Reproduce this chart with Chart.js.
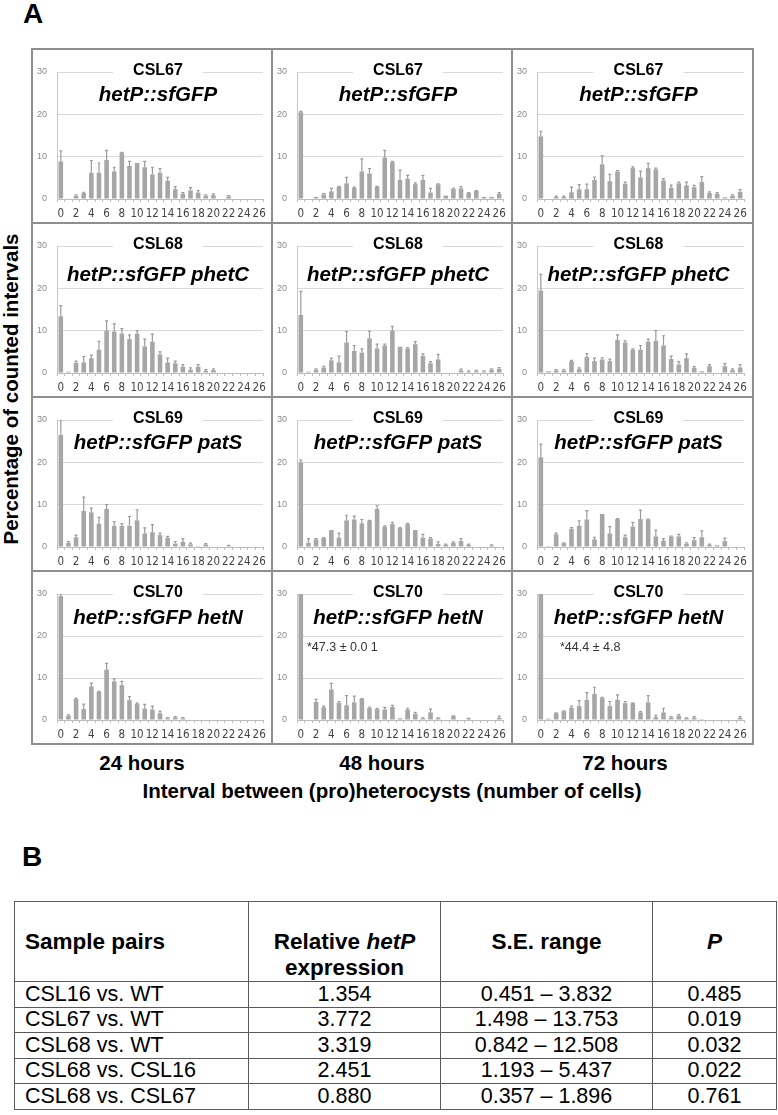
<!DOCTYPE html>
<html>
<head>
<meta charset="utf-8">
<script src="https://cdn.jsdelivr.net/npm/chart.js@4.4.0/dist/chart.umd.min.js"></script>
<style>
  body{margin:0;background:#fff;font-family:"Liberation Sans",Arial,sans-serif;}
  #page{position:relative;width:778px;height:1115px;overflow:hidden;background:#fff;}
  canvas{position:absolute;}
  .rule{position:absolute;background:#8e8e8e;z-index:2;}
  .lbl{position:absolute;font-weight:bold;white-space:nowrap;color:#000;line-height:1;}
  .ctr{transform:translate(-50%,-50%);}
  #yTitle{position:absolute;left:11px;top:389px;font-weight:bold;font-size:20.5px;white-space:nowrap;
          transform:translate(-50%,-50%) rotate(-90deg);line-height:1;}
  table{position:absolute;left:14px;top:901px;border-collapse:collapse;table-layout:fixed;width:762px;}
  td,th{border:1.5px solid #5a5a5a;padding:0;font-size:21.5px;line-height:1;text-align:center;white-space:nowrap;}
  th{font-size:22.5px;line-height:26px;vertical-align:top;padding-top:27px;height:52px;}
  td:first-child,th:first-child{text-align:left;padding-left:10px;}
  tbody tr{height:25.6px;}
</style>
</head>
<body>
<div id="page">
  <div class="lbl" style="left:23px;top:0px;font-size:28px;line-height:28px;">A</div>
  <div id="yTitle">Percentage of counted intervals</div>
  <div id="timeLabels"></div>
  <div class="lbl ctr" style="left:392px;top:791px;font-size:20.5px;">Interval between (pro)heterocysts (number of cells)</div>
  <div class="lbl" style="left:22px;top:843px;font-size:28px;line-height:28px;">B</div>
  <table id="tbl"></table>
</div>
<script>
/* ===== DATA ===== */

const intervals = ["0","1","2","3","4","5","6","7","8","9","10","11","12","13",
  "14","15","16","17","18","19","20","21","22","23","24","25","26"];
const strains = ["CSL67","CSL68","CSL69","CSL70"];
const constructs = ["hetP::sfGFP","hetP::sfGFP phetC","hetP::sfGFP patS","hetP::sfGFP hetN"];
const timepoints = ["24 hours","48 hours","72 hours"];
const hetNNotes = ["","*47.3 \u00b1 0.0 1","*44.4 \u00b1 4.8"];

// percentage of counted intervals, and upper error (S.E.)
const csl67_24 = [8.9,0.1,0.8,1.4,6.2,6.2,9.2,6.5,10.9,7.8,8.5,7.5,5.8,6.2,4.3,2.3,1.2,2.0,1.5,0.8,0.9,0,0.6,0,0,0,0];
const csl67_24_se = [2.5,0,0.2,0.2,2.9,2.3,2.3,1.0,0.1,1.1,0,1.4,1.7,1.0,0.8,0.6,0.3,0.7,0.5,0.2,0.3,0,0.2,0,0,0,0];
const csl67_48 = [20.5,0,0.5,1.1,1.8,2.9,3.7,2.6,6.5,6.0,2.9,9.8,8.7,4.5,4.8,3.5,4.5,1.5,3.5,0.8,2.4,2.5,1.4,1.9,0.5,0.5,1.2];
const csl67_48_se = [0.2,0,0,0.2,0.7,0.1,1.4,0.2,3.0,1.2,0.1,1.7,0.2,2.3,0.8,0.3,1.1,1.0,0.1,0,0.2,0.4,0.1,0.1,0,0,0.3];
const csl67_72 = [14.8,0,0.5,0.5,1.6,2.3,2.3,4.5,8.2,4.2,6.5,3.6,7.3,5.1,7.3,7.0,4.4,2.7,3.7,3.2,2.8,4.0,1.4,1.2,0.4,0.8,1.7];
const csl67_72_se = [1.2,0,0.2,0.2,1.2,1.1,1.2,0.7,2.0,1.6,0.2,0.4,0.3,1.5,1.1,0.3,0.4,0.6,0.3,0.8,0.4,1.3,0.3,0.3,0,0.2,0.5];

const csl68_24 = [13.4,0.3,2.4,2.5,3.5,5.5,10.0,9.8,9.3,8.0,9.3,6.3,7.4,4.4,2.5,2.3,1.5,0.8,1.5,0.5,0.7,0,0,0,0,0,0];
const csl68_24_se = [2.5,0,0.4,1.4,0.7,2.0,2.3,1.8,1.2,1.0,0.7,1.7,1.8,0.6,1.0,0.5,0.5,0.4,0.5,0.3,0.3,0,0,0,0,0,0];
const csl68_48 = [13.7,0.3,0.8,1.3,3.0,2.5,7.2,5.2,4.8,8.2,5.8,6.5,10.0,6.2,5.8,6.8,4.0,2.3,3.2,0,0,0.6,0.3,0.4,0.3,0.8,1.0];
const csl68_48_se = [5.6,0,0.2,0.3,0.5,1.5,2.6,1.3,0.9,1.7,1.0,0.3,1.0,0,0.2,0.6,0.5,0.4,1.2,0,0,0.3,0.2,0.2,0.2,0.2,0.3];
const csl68_72 = [19.5,0.4,0.6,0.6,2.8,0.9,3.8,2.8,3.2,2.8,7.8,7.2,5.5,5.5,7.4,7.6,6.5,3.3,2.0,3.5,1.2,0.4,1.6,0,1.6,0.7,1.3];
const csl68_72_se = [3.8,0,0.2,0.2,0.2,0.3,0.8,0.7,0.4,0.5,1.2,0.4,0.2,1.0,0.6,2.4,2.3,0.7,0.7,1.0,0.3,0,0.4,0,0.6,0.3,0.7];

const csl69_24 = [26.5,1.0,2.3,8.5,8.2,5.5,9.0,5.0,5.0,5.0,6.3,3.2,3.5,2.8,2.2,0.8,1.2,0.6,0.2,0.6,0.1,0,0.2,0,0,0,0];
const csl69_24_se = [3.5,0.3,0.5,3.3,1.0,1.5,1.0,1.0,0.5,2.2,2.5,1.3,1.8,0.5,0.3,0.5,0.8,0.3,0,0.2,0,0,0.2,0,0,0,0];
const csl69_48 = [20.0,1.0,1.8,2.1,4.0,2.2,6.3,6.5,5.6,6.2,9.0,4.8,5.4,4.5,5.4,4.0,2.2,2.0,0.7,0.5,1.0,1.4,0.5,0,0,0.3,0];
const csl69_48_se = [0.5,1.0,0.2,0.1,0,1.1,1.2,0.8,0.9,0.1,0.8,0.2,0.4,0.1,0.2,0,0.8,0.2,0.5,0.2,0.2,0.6,0.2,0,0,0.2,0];
const csl69_72 = [21.2,0.2,3.0,0.9,4.3,5.0,6.5,1.8,7.8,3.2,6.6,2.3,4.8,6.6,6.5,2.5,1.5,2.5,2.5,0.8,1.6,2.3,0.5,0.4,1.4,0,0];
const csl69_72_se = [3.1,0,0.3,0.1,0.3,1.2,2.1,0.5,0,1.6,0.1,0.5,1.0,2.1,0.1,1.5,0.5,0.1,0.5,0.2,0.6,1.5,0.2,0,0.7,0,0];

const csl70_24 = [29.5,1.0,5.0,2.6,8.0,6.7,12.0,9.2,8.3,4.7,3.8,2.7,2.5,1.6,0.4,0.6,0.4,0,0,0,0,0,0,0,0,0,0];
const csl70_24_se = [0.5,0.2,0.2,1.2,0.8,0.1,1.5,0.6,0.9,0.9,0.2,1.0,0.8,0.5,0.2,0.2,0.2,0,0,0,0,0,0,0,0,0,0];
const csl70_48 = [47.3,0,4.3,3.0,7.3,4.1,3.5,4.2,5.0,2.9,2.6,2.5,3.1,0.4,2.5,1.5,0.4,1.8,0.4,0,0.9,0,0.3,0,0,0,0.5];
const csl70_48_se = [0.01,0,0.6,0.3,1.4,0.3,2.3,1.5,0.1,0.2,0.2,0.5,0.4,0,0.3,0.3,0.1,0.8,0.1,0,0.1,0,0.1,0,0,0,0.4];
const csl70_72 = [44.4,0.3,1.6,2.1,2.9,3.3,4.8,6.2,5.2,3.3,4.8,4.0,4.0,1.8,4.2,0.7,1.8,0.6,1.0,0.4,0.5,0.2,0,0,0,0,0.5];
const csl70_72_se = [4.8,0,0.1,0.1,0.4,1.3,1.7,1.6,0.2,1.1,1.2,0.4,0.1,0.2,1.6,0.4,1.0,0.2,0.3,0.1,0.3,0,0,0,0,0,0.3];

// table B
const samplePairs = ["CSL16 vs. WT","CSL67 vs. WT","CSL68 vs. WT","CSL68 vs. CSL16","CSL68 vs. CSL67"];
const relExpression = ["1.354","3.772","3.319","2.451","0.880"];
const seRange = ["0.451 \u2013 3.832","1.498 \u2013 13.753","0.842 \u2013 12.508","1.193 \u2013 5.437","0.357 \u2013 1.896"];
const pValues = ["0.485","0.019","0.032","0.022","0.761"];

/* ===== LAYOUT ===== */
const colX = [32, 272, 512, 753];
const rowY = [49, 223, 397, 571, 744];
const subY = [46, 52, 46, 47];
const noteX = [0, 35, 48];
const NARROW = "'Liberation Sans Narrow','DejaVu Sans Condensed',sans-serif";

const panels = [
  [[csl67_24,csl67_24_se],[csl67_48,csl67_48_se],[csl67_72,csl67_72_se]],
  [[csl68_24,csl68_24_se],[csl68_48,csl68_48_se],[csl68_72,csl68_72_se]],
  [[csl69_24,csl69_24_se],[csl69_48,csl69_48_se],[csl69_72,csl69_72_se]],
  [[csl70_24,csl70_24_se],[csl70_48,csl70_48_se],[csl70_72,csl70_72_se]]
];

const page = document.getElementById("page");

// error bars
const errorBars = {
  id:"errorBars",
  afterDatasetsDraw(chart){
    const {ctx, chartArea} = chart;
    const ds = chart.data.datasets[0];
    const meta = chart.getDatasetMeta(0);
    const y = chart.scales.y;
    ctx.save();
    ctx.beginPath();
    ctx.rect(chartArea.left, chartArea.top, chartArea.width, chartArea.height);
    ctx.clip();
    ctx.strokeStyle = "#9a9a9a";
    ctx.lineWidth = 1.2;
    meta.data.forEach((bar,i)=>{
      const e = ds.errors[i];
      if(!e) return;
      const y0 = y.getPixelForValue(ds.data[i]);
      const y1 = y.getPixelForValue(ds.data[i]+e);
      ctx.beginPath();
      ctx.moveTo(bar.x, y0); ctx.lineTo(bar.x, y1);
      ctx.moveTo(bar.x-1.5, y1); ctx.lineTo(bar.x+1.5, y1);
      ctx.stroke();
    });
    ctx.restore();
  }
};

function makePanel(r, c){
  const cv = document.createElement("canvas");
  const w = colX[c+1]-colX[c], h = rowY[r+1]-rowY[r];
  cv.width = w; cv.height = h;
  cv.style.left = colX[c]+"px"; cv.style.top = rowY[r]+"px";
  page.appendChild(cv);
  const [vals, errs] = panels[r][c];

  const titles = {
    id:"titles",
    afterDraw(chart){
      const {ctx, chartArea} = chart;
      const cx = (chartArea.left+chartArea.right)/2 - 2;
      ctx.save();
      ctx.fillStyle = "#fff";
      ctx.fillRect(cx-45, chartArea.top-6, 90, 12);
      ctx.fillStyle = "#000";
      ctx.textAlign = "center";
      ctx.textBaseline = "middle";
      ctx.font = "bold 16px 'Liberation Sans', Arial, sans-serif";
      ctx.fillText(strains[r], cx, 22);
      ctx.font = "italic bold 20.5px 'Liberation Sans', Arial, sans-serif";
      ctx.fillText(constructs[r], cx, subY[r]);
      if(r===3 && hetNNotes[c]){
        ctx.textAlign = "left";
        ctx.font = "12.5px 'Liberation Sans', Arial, sans-serif";
        ctx.fillStyle = "#333";
        ctx.fillText(hetNNotes[c], noteX[c], 77);
      }
      ctx.restore();
    }
  };

  new Chart(cv,{
    type:"bar",
    data:{
      labels:intervals,
      datasets:[{
        data:vals,
        errors:errs,
        backgroundColor:"#a6a6a6",
        borderWidth:0,
        barPercentage:0.6,
        categoryPercentage:1
      }]
    },
    options:{
      responsive:false,
      animation:false,
      events:[],
      layout:{padding:{top:23,right:9,left:0,bottom:0}},
      plugins:{legend:{display:false},tooltip:{enabled:false}},
      scales:{
        x:{
          offset:true,
          grid:{drawOnChartArea:false,drawTicks:true,tickLength:3,color:"#bdbdbd",offset:true},
          border:{color:"#bdbdbd"},
          ticks:{autoSkip:false,maxRotation:0,minRotation:0,padding:5,color:"#444",
                 font:{size:11.5,family:NARROW},
                 callback:(v,i)=> i%2===0 ? intervals[i] : ""},
          afterFit(s){ s.height = 24; }
        },
        y:{
          min:0,max:30,
          grid:{color:"#d9d9d9",drawTicks:false},
          border:{color:"#c8c8c8"},
          ticks:{stepSize:10,padding:10,color:"#8a8a8a",font:{size:9,family:"'Liberation Sans', Arial, sans-serif"}},
          afterFit(s){ s.width = 25; }
        }
      }
    },
    plugins:[errorBars, titles]
  });
}

for(let r=0;r<4;r++) for(let c=0;c<3;c++) makePanel(r,c);

// panel frame
function rule(x,y,w,h){
  const d = document.createElement("div");
  d.className = "rule";
  d.style.left = x+"px"; d.style.top = y+"px"; d.style.width = w+"px"; d.style.height = h+"px";
  page.appendChild(d);
}
colX.forEach(x=>rule(x-1, rowY[0]-1, 2, rowY[4]-rowY[0]+2));
rowY.forEach(y=>rule(colX[0]-1, y-1, colX[3]-colX[0]+2, 2));

// time labels
const tlx = [142, 382, 625];
timepoints.forEach((t,i)=>{
  const d = document.createElement("div");
  d.className = "lbl ctr";
  d.style.left = tlx[i]+"px"; d.style.top = "763px"; d.style.fontSize = "20.5px";
  d.textContent = t;
  page.appendChild(d);
});

/* ===== TABLE ===== */
const tbl = document.getElementById("tbl");
let html = '<colgroup><col style="width:234px"><col style="width:192px"><col style="width:212px"><col style="width:124px"></colgroup>';
html += '<thead><tr><th>Sample pairs</th><th>Relative <i>hetP</i><br>expression</th><th>S.E. range</th><th><i>P</i></th></tr></thead><tbody>';
samplePairs.forEach((s,i)=>{
  html += `<tr><td>${s}</td><td>${relExpression[i]}</td><td>${seRange[i]}</td><td>${pValues[i]}</td></tr>`;
});
html += '</tbody>';
tbl.innerHTML = html;
</script>
</body>
</html>
